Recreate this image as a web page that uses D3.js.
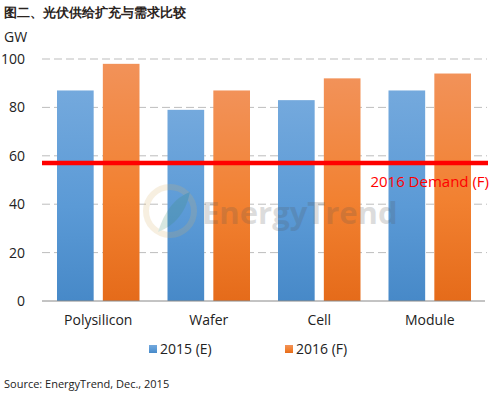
<!DOCTYPE html>
<html>
<head>
<meta charset="utf-8">
<script src="https://cdn.jsdelivr.net/npm/d3@7"></script>
<style>
  body { margin: 0; background: #fff; }
  text { font-family: "Open Sans", "DejaVu Sans", sans-serif; }
</style>
</head>
<body>
<div id="app"></div>
<script>
const categories = ['Polysilicon', 'Wafer', 'Cell', 'Module'];
const seriesNames = ['2015 (E)', '2016 (F)'];
const values2015 = [87, 79, 83, 87];
const values2016 = [98, 87, 92, 94];
const yTicks = [0, 20, 40, 60, 80, 100];
const demand2016 = 57;

const render = () => {
  const width = 503;
  const height = 395;
  const left = 43, right = 485, top = 59, bottom = 301;

  const svg = d3.select('#app').append('svg')
    .attr('width', width)
    .attr('height', height);

  const defs = svg.append('defs');
  const grads = [['g0', '#74a9dd', '#5b9ad6', '#4789c8'], ['g1', '#f29259', '#f28131', '#e56b1a']];
  grads.forEach(([id, c0, cm, c1]) => {
    const g = defs.append('linearGradient').attr('id', id)
      .attr('x1', 0).attr('y1', 0).attr('x2', 0).attr('y2', 1);
    g.append('stop').attr('offset', '0%').attr('stop-color', c0);
    g.append('stop').attr('offset', '55%').attr('stop-color', cm);
    g.append('stop').attr('offset', '100%').attr('stop-color', c1);
  });

  const x = d3.scaleBand().domain(categories).range([left, right]);
  const x1 = d3.scaleBand().domain(seriesNames).range([14, x.bandwidth() - 14]).paddingInner(0.2);
  const y = d3.scaleLinear().domain([0, 100]).range([bottom, top]);

  // title
  svg.append('text')
    .attr('x', 4).attr('y', 17)
    .attr('font-family', '"Noto Sans CJK SC", sans-serif')
    .attr('font-size', 13).attr('font-weight', 'bold').attr('fill', '#2a2320')
    .text('图二、光伏供给扩充与需求比较');

  svg.append('text')
    .attr('x', 4).attr('y', 42)
    .attr('font-size', 14).attr('fill', '#222')
    .text('GW');

  // grid
  svg.append('g').selectAll('line')
    .data(yTicks.filter(d => d > 0))
    .join('line')
    .attr('x1', 42).attr('x2', 487)
    .attr('y1', d => y(d)).attr('y2', d => y(d))
    .attr('stroke', '#bdbdbd').attr('stroke-width', 1)
    .attr('stroke-dasharray', '8,4');

  const yAxis = d3.axisLeft(y).tickValues(yTicks).tickSize(0).tickPadding(0);
  const ya = svg.append('g').attr('transform', 'translate(25,0)').call(yAxis);
  ya.select('.domain').remove();
  ya.selectAll('text').attr('font-size', 14).attr('fill', '#222')
    .attr('font-family', '"Open Sans", "DejaVu Sans", sans-serif');

  // bars
  const rows = categories.map((c, i) => ({ c, vals: [values2015[i], values2016[i]] }));
  svg.append('g').selectAll('g')
    .data(rows)
    .join('g')
    .attr('transform', d => `translate(${x(d.c)},0)`)
    .selectAll('rect')
    .data(d => d.vals.map((v, j) => ({ s: seriesNames[j], v, j })))
    .join('rect')
    .attr('x', d => x1(d.s))
    .attr('width', x1.bandwidth())
    .attr('y', d => y(d.v))
    .attr('height', d => y(0) - y(d.v))
    .attr('fill', d => `url(#g${d.j})`);

  // watermark (sits over the bars)
  const wm = svg.append('g').attr('opacity', 0.2);
  wm.append('circle').attr('cx', 170).attr('cy', 211).attr('r', 24)
    .attr('fill', 'none').attr('stroke', '#d9b36a').attr('stroke-width', 6);
  wm.append('path').attr('d', 'M158,232 Q168,200 190,192 Q184,222 158,232 Z').attr('fill', '#3a8a6a');
  wm.append('text').attr('x', 202).attr('y', 224)
    .attr('font-size', 31).attr('font-weight', 'bold').attr('fill', '#555')
    .attr('font-family', '"Open Sans", sans-serif')
    .text('EnergyTrend');

  // baseline
  svg.append('line')
    .attr('x1', 42).attr('x2', 485)
    .attr('y1', y(0)).attr('y2', y(0))
    .attr('stroke', '#888').attr('stroke-width', 1);

  // demand line
  svg.append('line')
    .attr('x1', 42).attr('x2', 488)
    .attr('y1', y(demand2016)).attr('y2', y(demand2016))
    .attr('stroke', '#ff0000').attr('stroke-width', 4.5);
  svg.append('text')
    .attr('x', 489).attr('y', y(demand2016) + 24)
    .attr('text-anchor', 'end')
    .attr('font-size', 15).attr('fill', '#ff0000')
    .text('2016 Demand (F)');

  // x labels
  svg.append('g').selectAll('text')
    .data(categories)
    .join('text')
    .attr('x', d => x(d) + x.bandwidth() / 2)
    .attr('y', 325)
    .attr('text-anchor', 'middle')
    .attr('font-size', 14).attr('fill', '#222')
    .text(d => d);

  // legend
  const legX = [149, 285];
  const leg = svg.append('g').selectAll('g')
    .data(seriesNames)
    .join('g')
    .attr('transform', (d, i) => `translate(${legX[i]},345)`);
  leg.append('rect').attr('width', 8).attr('height', 8)
    .attr('fill', (d, i) => `url(#g${i})`);
  leg.append('text').attr('x', 11).attr('y', 9)
    .attr('font-size', 14).attr('fill', '#222')
    .text(d => d);

  svg.append('text')
    .attr('x', 4).attr('y', 388)
    .attr('font-size', 11).attr('fill', '#222')
    .text('Source: EnergyTrend, Dec., 2015');
};

document.addEventListener('DOMContentLoaded', render);
</script>
</body>
</html>
